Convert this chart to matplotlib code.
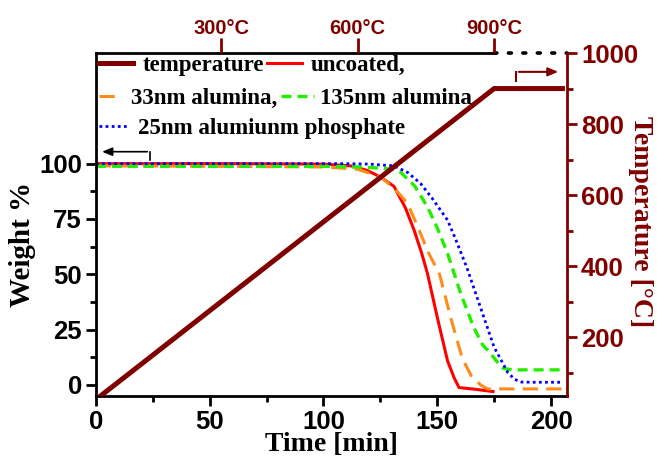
import numpy as np
import matplotlib.pyplot as plt

# --- data ---
t_temp = [0, 175, 205]
temp = [25, 900, 900]

t_unc = [0, 60, 100, 112, 119, 125, 131, 136, 139.8, 143, 145.7, 150, 154.5, 157.5, 159.6, 167, 174.5]
w_unc = [100, 100, 99.8, 99, 97, 94, 89.7, 80, 70, 60, 50.3, 30.6, 10.9, 3, -1.2, -2, -3]

t_33 = [0, 50, 100, 115, 125, 131, 137, 142, 146, 151, 156, 161, 165, 169, 172, 205]
w_33 = [99, 98.8, 98.5, 97.5, 94, 89, 82, 70, 60, 50, 30, 12, 4, 0, -1.8, -1.8]

t_135 = [0, 50, 100, 115, 125, 130, 134, 140, 145.6, 150, 154.5, 160.4, 166, 170, 173.6, 177, 179, 183, 205]
w_135 = [98.8, 98.8, 98.8, 98.5, 98, 97.5, 96, 90, 80.6, 71, 59.5, 41, 26, 18, 14, 9.5, 7.5, 6.8, 6.8]

t_ph = [0, 50, 100, 110, 120, 131, 137, 142.7, 148, 154.5, 158, 163, 169, 175, 181, 184, 187, 192, 205]
w_ph = [100, 100, 100, 100, 99.8, 99, 96, 91, 84, 74.5, 66, 53, 35, 17, 5.6, 2.5, 1.3, 1.2, 1.2]

top_temps = [300, 600, 900]
heat_start = 25
heat_rate = 5  # C/min

dred = '#800000'
sans = 'Liberation Sans'
serif = 'Liberation Serif'

fig = plt.figure(figsize=(6.57, 4.57), dpi=100)
fig.subplots_adjust(left=0.146, right=0.863, bottom=0.1335, top=0.884)
ax = fig.add_subplot(111)
ax2 = ax.twinx()
ax3 = ax.twiny()

xmax = 207
ax.set_xlim(0, xmax)
ax.set_ylim(-5, 150)
ax2.set_ylim(35, 1000)
ax3.set_xlim(0, xmax)

# weight curves
h_unc, = ax.plot(t_unc, w_unc, color='#ff0000', lw=2.2)
h_33, = ax.plot(t_33, w_33, color='#ff8c1a', lw=2.2, ls=(0, (5, 2.7)))
h_135, = ax.plot(t_135, w_135, color='#22ee00', lw=2.4, ls=(0, (3, 1.8)))
h_ph, = ax.plot(t_ph, w_ph, color='#0000ff', lw=2.0, ls=(0, (1, 1.2)))

# temperature
h_temp, = ax2.plot(t_temp, temp, color=dred, lw=3.6)

# spines
for s in ['top', 'right']:
    ax.spines[s].set_visible(False)
for s in ['top', 'left', 'bottom']:
    ax2.spines[s].set_visible(False)
for s in ax3.spines.values():
    s.set_visible(False)
ax.spines['left'].set_linewidth(2)
ax.spines['bottom'].set_linewidth(2)
ax2.spines['right'].set_linewidth(2)
ax2.spines['right'].set_color(dred)

# top border: solid up to end of ramp, dotted afterwards
ax.plot([0, t_temp[1]], [1, 1], transform=ax.get_xaxis_transform(), color='black', lw=2, clip_on=False)
ax.plot([t_temp[1], xmax], [1, 1], transform=ax.get_xaxis_transform(), color='black', lw=2.6,
        ls=(0, (0.8, 3.2)), dash_capstyle='round', clip_on=False)

# left / bottom ticks
ax.set_yticks([0, 25, 50, 75, 100])
ax.set_yticks([12.5, 37.5, 62.5, 87.5], minor=True)
ax.set_xticks([0, 50, 100, 150, 200])
ax.set_xticks([25, 75, 125, 175], minor=True)
ax.tick_params(which='major', direction='out', length=7, width=2, labelsize=18.5, pad=3)
ax.tick_params(which='minor', direction='out', length=4, width=2)
for lab in ax.get_xticklabels() + ax.get_yticklabels():
    lab.set_fontfamily(sans)
    lab.set_fontweight('bold')

# right ticks
ax2.set_yticks([200, 400, 600, 800, 1000])
ax2.set_yticks([100, 300, 500, 700, 900], minor=True)
ax2.tick_params(which='major', direction='out', length=7, width=2, colors=dred, labelsize=18.5, pad=3)
ax2.tick_params(which='minor', direction='out', length=4, width=2, colors=dred)
for lab in ax2.get_yticklabels():
    lab.set_fontfamily(sans)
    lab.set_fontweight('bold')

# top ticks (temperature marks on the time axis)
top_pos = [(T - heat_start) / heat_rate for T in top_temps]
ax3.set_xticks(top_pos)
ax3.set_xticklabels([f'{T}°C' for T in top_temps])
ax3.tick_params(direction='out', length=11, width=2, colors=dred, labelsize=14.5, pad=0)
for lab in ax3.get_xticklabels():
    lab.set_fontfamily(sans)
    lab.set_fontweight('bold')

# axis labels
ax.set_xlabel('Time [min]', fontfamily=serif, fontweight='bold', fontsize=20, labelpad=-1.5)
ax.set_ylabel('Weight %', fontfamily=serif, fontweight='bold', fontsize=21, labelpad=2, y=0.443)
ax2.set_ylabel('Temperature [°C]', fontfamily=serif, fontweight='bold', fontsize=20,
               color=dred, rotation=270, labelpad=11, y=0.51)

# arrows showing which axis each curve belongs to
ax.annotate('', xy=(1.5, 105.4), xytext=(23.8, 105.4),
            arrowprops=dict(arrowstyle='-|>,head_length=0.6,head_width=0.25', color='black', lw=1.2))
ax.plot([23.8, 23.8], [105.4, 101.6], color='black', lw=1.2)
ax2.annotate('', xy=(204.4, 947), xytext=(184.6, 947),
             arrowprops=dict(arrowstyle='-|>,head_length=0.6,head_width=0.25', color=dred, lw=1.5))
ax2.plot([184.6, 184.6], [947, 920], color=dred, lw=1.5)

# legend, written in rows like the original
prop = dict(family=serif, weight='bold', size=16.5)
common = dict(loc='upper left', frameon=False, prop=prop, borderaxespad=0, borderpad=0,
              columnspacing=0.15)
leg1 = ax2.legend([h_temp, h_unc], ['temperature', 'uncoated,'], ncol=2, handlelength=1.5,
                  handletextpad=0.4, bbox_to_anchor=(0.006, 0.993), **common)
ax2.add_artist(leg1)
leg2a = ax2.legend([h_33], ['33nm alumina,'], handlelength=1.0, handletextpad=0.4,
                   bbox_to_anchor=(0.006, 0.899), **common)
ax2.add_artist(leg2a)
leg2b = ax2.legend([h_135], ['135nm alumina'], handlelength=1.45, handletextpad=0.25,
                   bbox_to_anchor=(0.393, 0.899), **common)
ax2.add_artist(leg2b)
leg3 = ax2.legend([h_ph], ['25nm alumiunm phosphate'], handlelength=1.3, handletextpad=0.4,
                  bbox_to_anchor=(0.006, 0.81), **common)

fig.savefig('out.png', dpi=100)
